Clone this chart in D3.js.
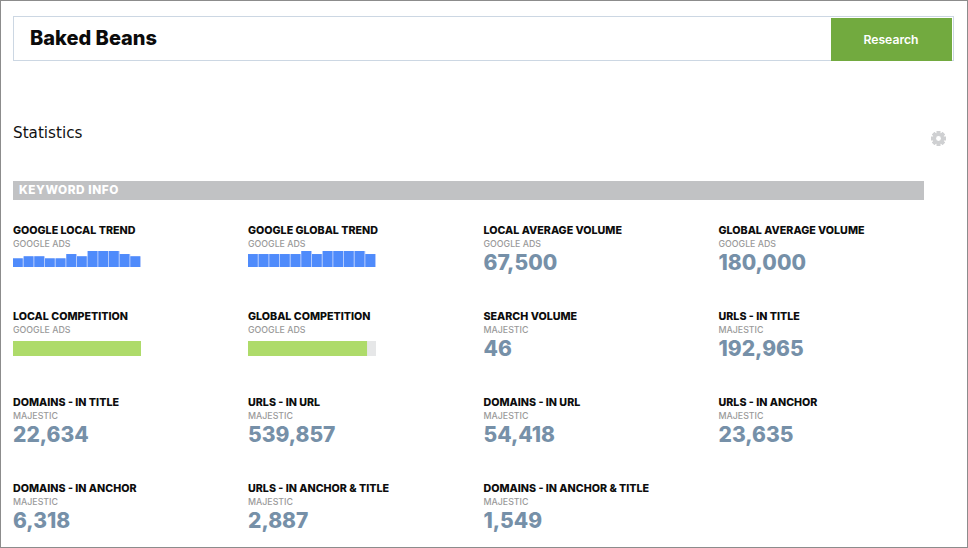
<!DOCTYPE html>
<html>
<head>
<meta charset="utf-8">
<script src="https://cdnjs.cloudflare.com/ajax/libs/d3/7.8.5/d3.min.js"></script>
<style>
  html, body { margin: 0; padding: 0; background: #fff; }
  svg { display: block; }
  text { font-family: Inter, "Open Sans", sans-serif; }
</style>
</head>
<body>
<script>
// values
const keyword = 'Baked Beans';
const buttonLabel = 'Research';
const pageTitle = 'Statistics';
const sectionTitle = 'KEYWORD INFO';

const metricNames = [
  'GOOGLE LOCAL TREND', 'GOOGLE GLOBAL TREND', 'LOCAL AVERAGE VOLUME', 'GLOBAL AVERAGE VOLUME',
  'LOCAL COMPETITION', 'GLOBAL COMPETITION', 'SEARCH VOLUME', 'URLS - IN TITLE',
  'DOMAINS - IN TITLE', 'URLS - IN URL', 'DOMAINS - IN URL', 'URLS - IN ANCHOR',
  'DOMAINS - IN ANCHOR', 'URLS - IN ANCHOR & TITLE', 'DOMAINS - IN ANCHOR & TITLE'
];
const metricSources = [
  'GOOGLE ADS', 'GOOGLE ADS', 'GOOGLE ADS', 'GOOGLE ADS',
  'GOOGLE ADS', 'GOOGLE ADS', 'MAJESTIC', 'MAJESTIC',
  'MAJESTIC', 'MAJESTIC', 'MAJESTIC', 'MAJESTIC',
  'MAJESTIC', 'MAJESTIC', 'MAJESTIC'
];
const metricValues = [
  null, null, 67500, 180000,
  null, null, 46, 192965,
  22634, 539857, 54418, 23635,
  6318, 2887, 1549
];
const localTrend = [54, 67, 67, 54, 54, 81, 67, 100, 100, 100, 81, 67];
const globalTrend = [81, 81, 81, 81, 81, 100, 81, 100, 100, 100, 100, 81];
const localCompetition = 1.0;
const globalCompetition = 0.93;

const width = 968;
const height = 548;
const svg = d3.select('body').append('svg').attr('width', width).attr('height', height);

// window frame
svg.append('rect').attr('x', 0.5).attr('y', 0.5).attr('width', width - 1).attr('height', height - 1)
  .attr('fill', '#fff').attr('stroke', '#8c8c8c');

// search box
svg.append('rect').attr('x', 13.5).attr('y', 16.5).attr('width', 940).attr('height', 44)
  .attr('fill', '#fff').attr('stroke', '#ccd7e3');
svg.append('rect').attr('x', 831).attr('y', 18).attr('width', 121).attr('height', 43).attr('fill', '#72aa3f');
svg.append('text').attr('x', 30).attr('y', 45).text(keyword)
  .attr('font-size', 20).attr('font-weight', 800).attr('fill', '#0b0b0b');
svg.append('text').attr('x', 891).attr('y', 44).text(buttonLabel).attr('text-anchor', 'middle')
  .attr('font-size', 12.2).attr('font-weight', 600).attr('fill', '#fff');

svg.append('text').attr('x', 13).attr('y', 138).text(pageTitle)
  .style('font-family', '"DejaVu Sans"').attr('font-size', 15.2).attr('fill', '#111');

// gear icon
const gear = svg.append('g').attr('transform', 'translate(938.5,138.5)').attr('fill', '#cfd0d2');
gear.selectAll('rect').data(d3.range(8)).enter().append('rect')
  .attr('x', -1.8).attr('y', -7.5).attr('width', 3.6).attr('height', 15)
  .attr('transform', (d) => 'rotate(' + d * 45 + ')');
gear.append('path').attr('fill-rule', 'evenodd')
  .attr('d', d3.arc()({ innerRadius: 2.4, outerRadius: 5.8, startAngle: 0, endAngle: 2 * Math.PI }));
gear.append('circle').attr('r', 2.4).attr('fill', '#fff');

// section header
svg.append('rect').attr('x', 13).attr('y', 181).attr('width', 911).attr('height', 19).attr('fill', '#c1c2c4');
svg.append('text').attr('x', 19).attr('y', 194).text(sectionTitle)
  .attr('font-size', 11.8).attr('font-weight', 800).attr('letter-spacing', 0.55).attr('fill', '#fff');

// grid of metrics
const colX = [13, 248, 483.5, 718.5];
const rowY = d3.scaleLinear().domain([0, 1]).range([234, 320]);
const blockWidth = 128;
const fmt = d3.format(',');

const cells = svg.selectAll('g.cell').data(metricNames).enter().append('g')
  .attr('class', 'cell')
  .attr('transform', (d, i) => 'translate(' + colX[i % 4] + ',' + rowY(Math.floor(i / 4)) + ')');

cells.append('text').text((d) => d)
  .attr('font-size', 10.7).attr('font-weight', 800).attr('fill', '#0d0d0d');
cells.append('text').attr('y', 12.5).text((d, i) => metricSources[i])
  .attr('font-size', 8.8).attr('font-weight', 500).attr('fill', '#9a9a9a');
cells.append('text').attr('y', 36).text((d, i) => metricValues[i] === null ? '' : fmt(metricValues[i]))
  .attr('font-size', 21).attr('font-weight', 800).attr('fill', '#7690a8');

// trend sparklines
const trendX = d3.scaleBand().domain(d3.range(12)).range([0, blockWidth]);
const trendY = d3.scaleLinear().domain([0, 100]).range([33, 17]);

function drawTrend(cellIndex, values) {
  const g = d3.select(cells.nodes()[cellIndex]);
  g.selectAll('rect.halo').data(values).enter().append('rect')
    .attr('class', 'halo')
    .attr('x', (d, i) => trendX(i))
    .attr('y', (d) => trendY(d))
    .attr('width', trendX.bandwidth())
    .attr('height', (d) => trendY(0) - trendY(d))
    .attr('fill', '#b3cafc');
  g.selectAll('rect.bar').data(values).enter().append('rect')
    .attr('class', 'bar')
    .attr('x', (d, i) => trendX(i))
    .attr('y', (d) => trendY(d))
    .attr('width', trendX.bandwidth() - 1)
    .attr('height', (d) => trendY(0) - trendY(d))
    .attr('fill', '#4f8bfb');
}
drawTrend(0, localTrend);
drawTrend(1, globalTrend);

// competition meters
const compX = d3.scaleLinear().domain([0, 1]).range([0, blockWidth]);

function drawCompetition(cellIndex, value) {
  const g = d3.select(cells.nodes()[cellIndex]);
  g.append('rect').attr('y', 21).attr('width', compX(1)).attr('height', 15).attr('fill', '#e6e7e8');
  g.append('rect').attr('y', 21).attr('width', compX(value)).attr('height', 15).attr('fill', '#aedb6a');
}
drawCompetition(4, localCompetition);
drawCompetition(5, globalCompetition);
</script>
</body>
</html>
